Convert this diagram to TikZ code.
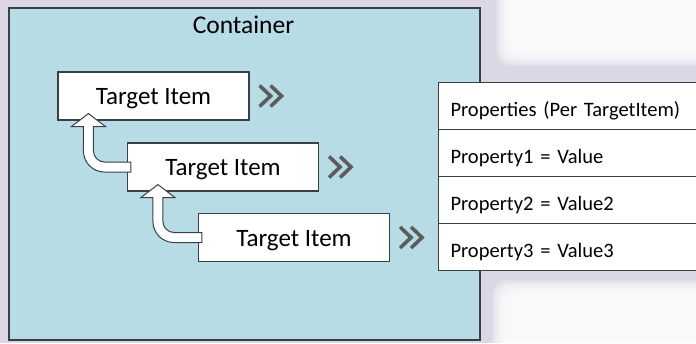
\documentclass[tikz,border=0pt]{standalone}
\usepackage{fontspec}
\setmainfont{Carlito}
\usetikzlibrary{calc}

\definecolor{bglav}{HTML}{DCD7E5}
\definecolor{contfill}{HTML}{B7DCE6}
\definecolor{edge}{HTML}{3A3F44}
\definecolor{chevgray}{HTML}{5C5C5C}

\tikzset{
  itembox/.style={draw=edge, line width=1.1pt, fill=white, minimum width=191pt,
    minimum height=48pt, inner sep=0pt, font=\fontsize{25}{28}\selectfont,
    text height=17pt, text depth=0pt},
  proprow/.style={draw=edge, line width=1.1pt, fill=white, anchor=north west,
    minimum height=47pt, text width=246pt, inner xsep=12pt, inner ysep=0pt,
    align=left, font=\fontsize{20.5}{23}\selectfont, text height=20pt, text depth=0pt},
  chev/.style={draw=chevgray, line width=3.6pt},
  barrow/.style={draw=edge, fill=white, line width=1pt, line join=miter},
}

% double chevron to the right of an item box
\newcommand\chevrons[1]{%
  \draw[chev] ([xshift=10pt,yshift=10.5pt]#1.east) -- ++(11pt,-10.5pt) -- ++(-11pt,-10.5pt);
  \draw[chev] ([xshift=21pt,yshift=10.5pt]#1.east) -- ++(11pt,-10.5pt) -- ++(-11pt,-10.5pt);}

% bent block arrow from the west side of box #1 up into the bottom of box #2
\newcommand\bentarrow[2]{%
  \draw[barrow] let \p1=(#2.south west), \p2=(#1.west) in
    (\x1+31pt,\y1+7pt) -- (\x1+48pt,\y1-6pt) -- (\x1+36pt,\y1-6pt) -- (\x1+36pt,\y2+16pt)
    .. controls (\x1+36pt,\y2+10pt) and (\x1+41pt,\y2+5pt) .. (\x1+47pt,\y2+5pt)
    -- (\x2+4pt,\y2+5pt) -- (\x2+4pt,\y2-5pt) -- (\x1+47pt,\y2-5pt)
    .. controls (\x1+35.4pt,\y2-5pt) and (\x1+26pt,\y2+4.4pt) .. (\x1+26pt,\y2+16pt)
    -- (\x1+26pt,\y1-6pt) -- (\x1+14pt,\y1-6pt) -- cycle;}

\begin{document}
\begin{tikzpicture}[x=1pt, y=-1pt]
  \useasboundingbox (0,0) rectangle (696,343);
  \clip (0,0) rectangle (696,343);

  % backdrop with soft white patches on the right
  \fill[bglav] (0,0) rectangle (696,343);
  \foreach \k in {0,...,23} {
    \fill[white, fill opacity=0.15, rounded corners=14pt]
      (496+\k, -30) rectangle (760, 66-\k);
    \fill[white, fill opacity=0.15, rounded corners=14pt]
      (492+\k, 280+\k) rectangle (760, 380);
  }

  % container
  \node[draw=edge, line width=1.6pt, fill=contfill, anchor=north west,
        minimum width=471pt, minimum height=332pt, inner sep=0pt] (cont) at (8,7) {};
  \node[font=\fontsize{25.5}{28}\selectfont, anchor=base] (ctitle) at (243.5,33) {Container};

  % target items
  \node[itembox] (b1) at (153.5,96) {Target Item};
  \node[itembox] (b2) at (223,167) {Target Item};
  \node[itembox] (b3) at (294,237.5) {Target Item};

  \bentarrow{b2}{b1}
  \bentarrow{b3}{b2}

  \chevrons{b1}
  \chevrons{b2}
  \chevrons{b3}

  % property table
  \node[proprow] (p0) at (438,82)  {Properties (Per TargetItem)};
  \node[proprow] (p1) at (438,129) {Property1 = Value};
  \node[proprow] (p2) at (438,176) {Property2 = Value2};
  \node[proprow] (p3) at (438,223) {Property3 = Value3};
\end{tikzpicture}
\end{document}
